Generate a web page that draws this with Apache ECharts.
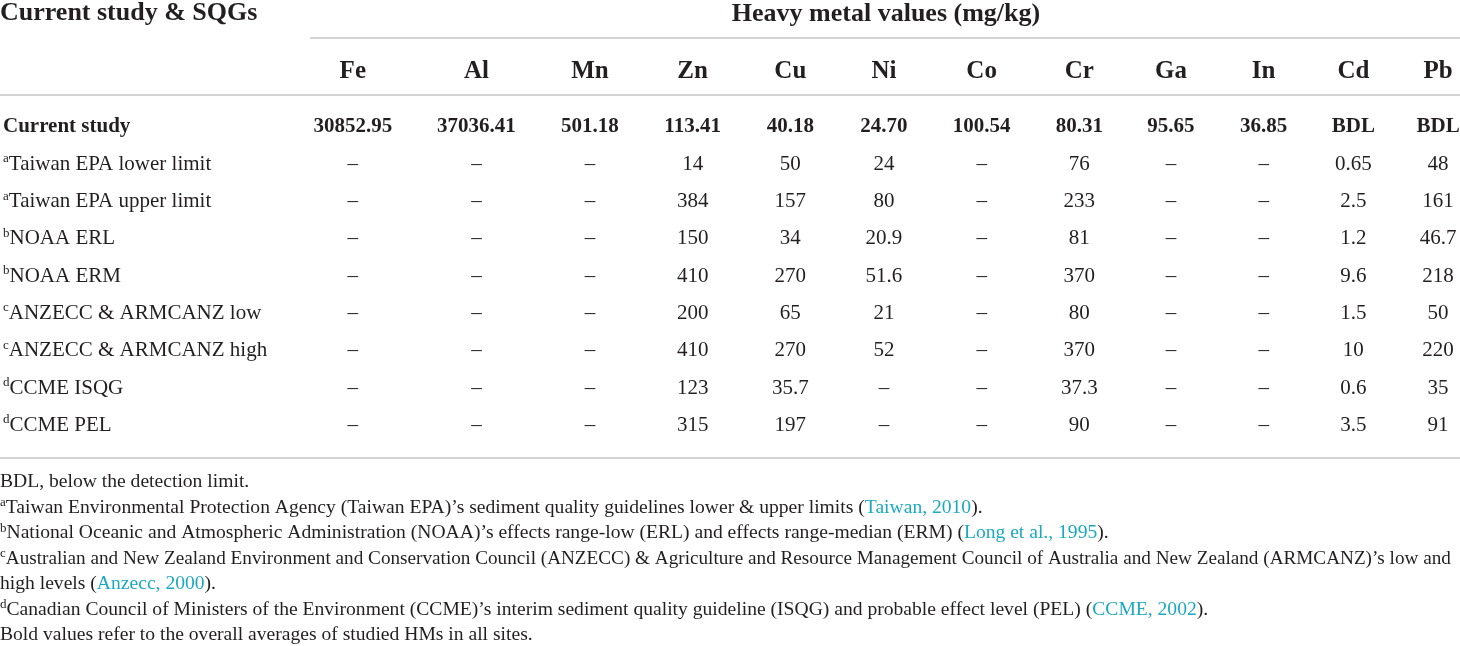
<!DOCTYPE html>
<html>
<head>
<meta charset="utf-8">
<script src="https://cdn.jsdelivr.net/npm/echarts@6/dist/echarts.min.js"></script>
<style>
html, body { margin: 0; padding: 0; background: #fff; }
#main { width: 1460px; height: 646px; }
</style>
</head>
<body>
<div id="main"></div>
<script>
// table content
var metals = ['Fe', 'Al', 'Mn', 'Zn', 'Cu', 'Ni', 'Co', 'Cr', 'Ga', 'In', 'Cd', 'Pb']
var rowNames = ['Current study', 'Taiwan EPA lower limit', 'Taiwan EPA upper limit', 'NOAA ERL', 'NOAA ERM',
	'ANZECC & ARMCANZ low', 'ANZECC & ARMCANZ high', 'CCME ISQG', 'CCME PEL']
var rowNotes = ['', 'a', 'a', 'b', 'b', 'c', 'c', 'd', 'd']

var currentStudy = ['30852.95', '37036.41', '501.18', '113.41', '40.18', '24.70', '100.54', '80.31', '95.65', '36.85', 'BDL', 'BDL']
var taiwanLower = ['–', '–', '–', '14', '50', '24', '–', '76', '–', '–', '0.65', '48']
var taiwanUpper = ['–', '–', '–', '384', '157', '80', '–', '233', '–', '–', '2.5', '161']
var noaaERL = ['–', '–', '–', '150', '34', '20.9', '–', '81', '–', '–', '1.2', '46.7']
var noaaERM = ['–', '–', '–', '410', '270', '51.6', '–', '370', '–', '–', '9.6', '218']
var anzeccLow = ['–', '–', '–', '200', '65', '21', '–', '80', '–', '–', '1.5', '50']
var anzeccHigh = ['–', '–', '–', '410', '270', '52', '–', '370', '–', '–', '10', '220']
var ccmeISQG = ['–', '–', '–', '123', '35.7', '–', '–', '37.3', '–', '–', '0.6', '35']
var ccmePEL = ['–', '–', '–', '315', '197', '–', '–', '90', '–', '–', '3.5', '91']

var tableRows = [currentStudy, taiwanLower, taiwanUpper, noaaERL, noaaERM, anzeccLow, anzeccHigh, ccmeISQG, ccmePEL]

var footnotes = [
	'{t|BDL, below the detection limit.}',
	'{sup|a}{t|Taiwan Environmental Protection Agency (Taiwan EPA)’s sediment quality guidelines lower & upper limits (}{link|Taiwan, 2010}{t|).}',
	'{sup|b}{t|National Oceanic and Atmospheric Administration (NOAA)’s effects range-low (ERL) and effects range-median (ERM) (}{link|Long et al., 1995}{t|).}',
	'{sup|c}{tc|Australian and New Zealand Environment and Conservation Council (ANZECC) & Agriculture and Resource Management Council of Australia and New Zealand (ARMCANZ)’s low and}',
	'{t|high levels (}{link|Anzecc, 2000}{t|).}',
	'{sup|d}{t|Canadian Council of Ministers of the Environment (CCME)’s interim sediment quality guideline (ISQG) and probable effect level (PEL) (}{link|CCME, 2002}{t|).}',
	'{t|Bold values refer to the overall averages of studied HMs in all sites.}'
]

// layout (pixels)
var colX = [349, 473, 587, 690, 788, 882, 980, 1078, 1170, 1263, 1353, 1438]
var FONT = '"Liberation Serif", "DejaVu Serif", serif'
var INK = '#231f20'
var RULE = '#c4c4c4'
var LINK = '#1aa9c1'

var cells = []
for (let i = 0; i < tableRows.length; i++) {
	for (let j = 0; j < metals.length; j++) {
		cells.push({ value: [colX[j], rowNames[i]], text: tableRows[i][j], bold: i === 0 })
	}
}

var myChart = echarts.init(document.getElementById('main'))

var graphics = [
	{ type: 'text', x: 0, y: 13, style: { text: 'Current study & SQGs', font: 'bold 26px ' + FONT, fill: INK, verticalAlign: 'middle' } },
	{ type: 'text', x: 886, y: 14, style: { text: 'Heavy metal values (mg/kg)', font: 'bold 26px ' + FONT, fill: INK, align: 'center', verticalAlign: 'middle' } },
	{ type: 'line', shape: { x1: 310, y1: 38, x2: 1460, y2: 38 }, style: { stroke: RULE, lineWidth: 1.5 } },
	{ type: 'line', shape: { x1: 0, y1: 95, x2: 1460, y2: 95 }, style: { stroke: RULE, lineWidth: 1.5 } },
	{ type: 'line', shape: { x1: 0, y1: 458, x2: 1460, y2: 458 }, style: { stroke: RULE, lineWidth: 1.5 } }
]
footnotes.forEach(function(f, k) {
	graphics.push({
		type: 'text', x: 0, y: 482 + k * 25.5,
		style: {
			text: f, verticalAlign: 'middle',
			rich: {
				t: { fontFamily: FONT, fontSize: 19.6, fill: INK, lineHeight: 22 },
				tc: { fontFamily: FONT, fontSize: 19.2, fill: INK, lineHeight: 22 },
				link: { fontFamily: FONT, fontSize: 19.6, fill: LINK, lineHeight: 22 },
				sup: { fontFamily: FONT, fontSize: 13, fill: INK, verticalAlign: 'top', lineHeight: 22 }
			}
		}
	})
})

var option = {
	animation: false,
	grid: { left: 0, right: 0, top: 108.4, bottom: 201.9 },
	xAxis: {
		type: 'value', min: 0, max: 1460, position: 'top',
		splitLine: { show: false }, axisLine: { show: false }, axisTick: { show: false },
		axisLabel: {
			customValues: colX,
			margin: 24,
			formatter: function(v) { return metals[colX.indexOf(v)] },
			fontFamily: FONT, fontWeight: 'bold', fontSize: 25, color: INK
		}
	},
	yAxis: {
		type: 'category', data: rowNames, inverse: true,
		axisLine: { show: false }, axisTick: { show: false }, splitLine: { show: false },
		axisLabel: {
			inside: true, margin: -2,
			formatter: function(v, idx) {
				var s = rowNotes[idx] ? '{sup|' + rowNotes[idx] + '}' : ''
				return s + '{' + (idx === 0 ? 'b' : 'n') + '|' + v + '}'
			},
			rich: {
				b: { fontFamily: FONT, fontSize: 21, fontWeight: 'bold', color: INK, lineHeight: 24 },
				n: { fontFamily: FONT, fontSize: 21, color: INK, lineHeight: 24 },
				sup: { fontFamily: FONT, fontSize: 13, color: INK, verticalAlign: 'top', lineHeight: 24 }
			}
		}
	},
	series: [{
		type: 'scatter',
		symbolSize: 0,
		itemStyle: { opacity: 1 },
		data: cells,
		label: {
			show: true, position: 'inside', opacity: 1, color: INK,
			formatter: function(p) { return p.data.bold ? '{b|' + p.data.text + '}' : '{n|' + p.data.text + '}' },
			rich: {
				b: { fontFamily: FONT, fontSize: 21, fontWeight: 'bold', color: INK },
				n: { fontFamily: FONT, fontSize: 21, color: INK }
			}
		},
		emphasis: { disabled: true }
	}],
	graphic: graphics
}
myChart.setOption(option)
</script>
</body>
</html>
